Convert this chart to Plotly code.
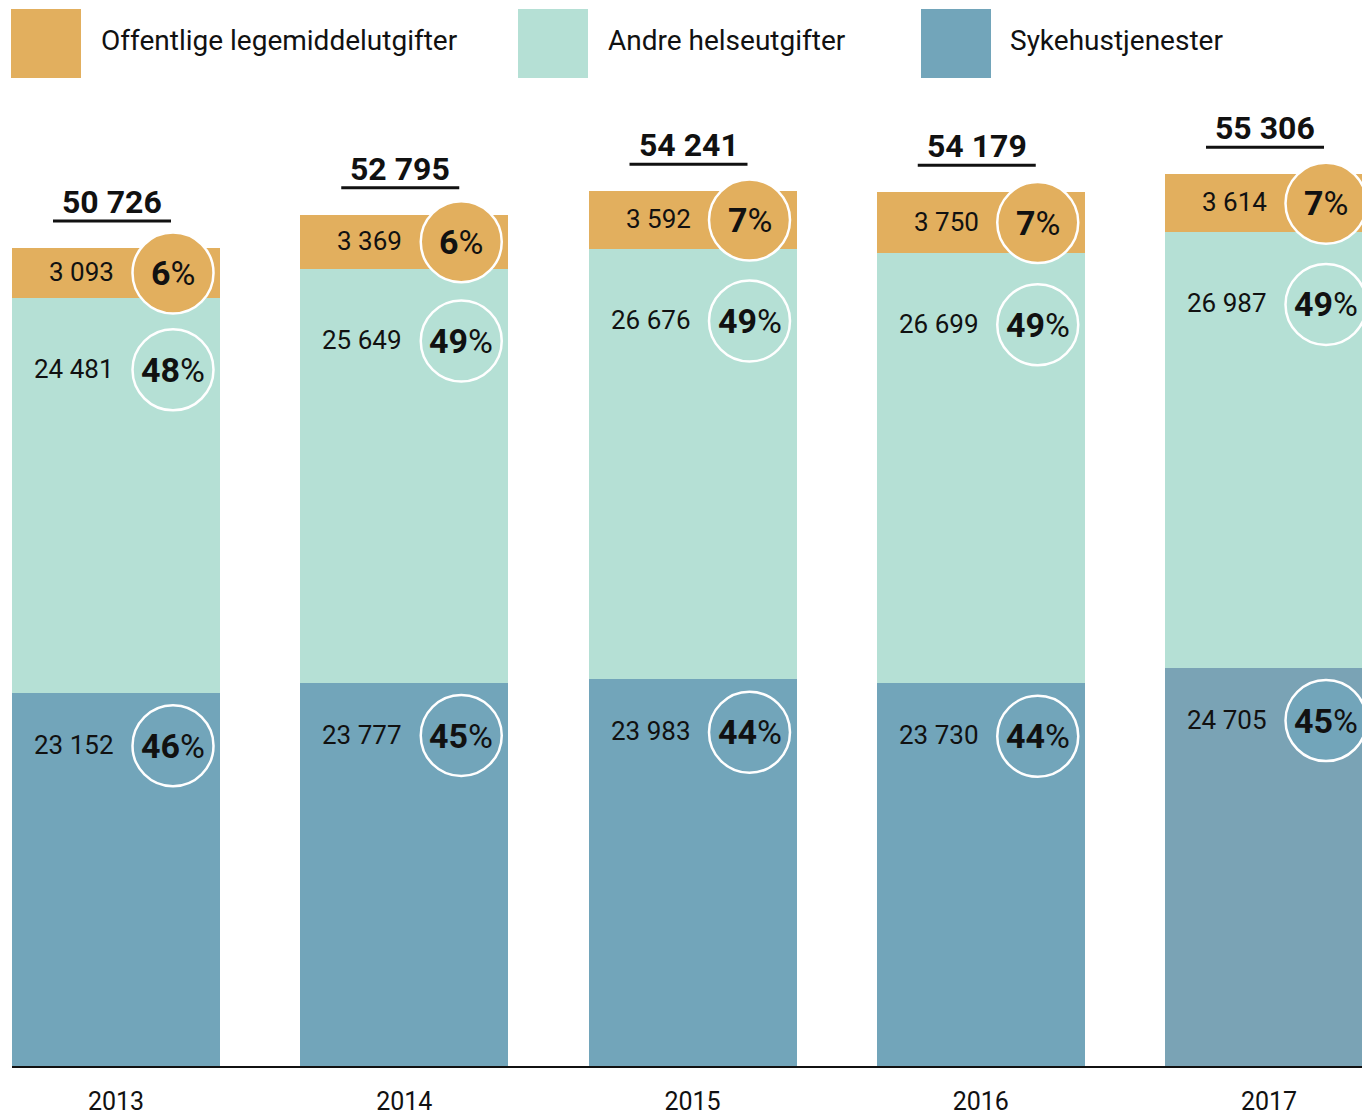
import plotly.graph_objects as go

# ---- data ----
years = ["2013", "2014", "2015", "2016", "2017"]
sykehus = [23152, 23777, 23983, 23730, 24705]
andre = [24481, 25649, 26676, 26699, 26987]
legemiddel = [3093, 3369, 3592, 3750, 3614]
totals = [50726, 52795, 54241, 54179, 55306]
pct_sykehus = [46, 45, 44, 44, 45]
pct_andre = [48, 49, 49, 49, 49]
pct_legemiddel = [6, 6, 7, 7, 7]
series_names = ["Offentlige legemiddelutgifter", "Andre helseutgifter", "Sykehustjenester"]

# ---- style ----
C_ORANGE = "#E2AF5E"
C_GREEN = "#B5E0D5"
C_BLUE = "#72A5BA"
blue_bar_colors = [C_BLUE, C_BLUE, C_BLUE, C_BLUE, "#7AA3B5"]
FONT = "Roboto"
BAR_W = 0.7216
W, H = 1362, 1118
ML, MR, MT, MB = 12, 0, 100, 52
PX_PER_UNIT = 0.016126
plot_h = H - MT - MB
plot_w = W - ML - MR
ymax = plot_h / PX_PER_UNIT

def fmt(v):
    return f"{v:,}".replace(",", " ")

x = list(range(len(years)))

fig = go.Figure()
fig.add_bar(x=x, y=sykehus, width=BAR_W, marker=dict(color=blue_bar_colors, line_width=0),
            name=series_names[2], hoverinfo="skip")
fig.add_bar(x=x, y=andre, width=BAR_W, marker=dict(color=C_GREEN, line_width=0),
            name=series_names[1], hoverinfo="skip")
fig.add_bar(x=x, y=legemiddel, width=BAR_W, marker=dict(color=C_ORANGE, line_width=0),
            name=series_names[0], hoverinfo="skip")

shapes = []
annotations = []
R = 40.5
CX = 57

for i in x:
    segs = [
        (sykehus[i], -53, C_BLUE, sykehus[i], pct_sykehus[i]),
        (sykehus[i] + andre[i], -72, C_GREEN, andre[i], pct_andre[i]),
        (sykehus[i] + andre[i] + legemiddel[i] / 2, 0, C_ORANGE, legemiddel[i], pct_legemiddel[i]),
    ]
    for yanchor, off, col, val, pct in segs:
        shapes.append(dict(type="circle", xref="x", yref="y", xsizemode="pixel", ysizemode="pixel",
                           xanchor=i, yanchor=yanchor, x0=CX - R, x1=CX + R,
                           y0=off - R, y1=off + R, fillcolor=col,
                           line=dict(color="white", width=2.5), layer="above"))
        annotations.append(dict(x=i, y=yanchor, xref="x", yref="y", text=fmt(val), showarrow=False,
                                xanchor="right", yanchor="middle", xshift=0, yshift=off + 1,
                                font=dict(family=FONT, size=26, color="#111")))
        annotations.append(dict(x=i, y=yanchor, xref="x", yref="y", text=f"<b>{pct}</b>%",
                                showarrow=False, xanchor="center", yanchor="middle",
                                xshift=CX, yshift=off, font=dict(family=FONT, size=34, color="#111")))
    # total label with underline
    annotations.append(dict(x=i, y=totals[i], xref="x", yref="y", text=f"<b>{fmt(totals[i])}</b>",
                            showarrow=False, xanchor="center", yanchor="middle", xshift=-4, yshift=46,
                            font=dict(family=FONT, size=32, color="#111")))
    shapes.append(dict(type="line", xref="x", yref="y", xsizemode="pixel", ysizemode="pixel",
                       xanchor=i, yanchor=totals[i], x0=-63, x1=55, y0=27, y1=27,
                       line=dict(color="#111", width=3), layer="above"))

# ---- custom legend (positions given in screen pixels) ----
def px_x(p):
    return (p - ML) / plot_w
def px_y(p):
    return (H - MB - p) / plot_h

legend_items = [(series_names[0], C_ORANGE, 11, 99),
                (series_names[1], C_GREEN, 518, 606),
                (series_names[2], C_BLUE, 921, 1008)]
for name, col, sx, tx in legend_items:
    shapes.append(dict(type="rect", xref="paper", yref="paper",
                       x0=px_x(sx), x1=px_x(sx + 70), y0=px_y(78), y1=px_y(9),
                       fillcolor=col, line_width=0))
    annotations.append(dict(x=px_x(tx), y=px_y(40), xref="paper", yref="paper", text=name,
                            showarrow=False, xanchor="left", yanchor="middle",
                            font=dict(family=FONT, size=28, color="#111")))

fig.update_layout(
    template="none",
    barmode="stack",
    width=W, height=H,
    margin=dict(l=ML, r=MR, t=MT, b=MB),
    paper_bgcolor="white", plot_bgcolor="white",
    showlegend=False,
    shapes=shapes,
    annotations=annotations,
    xaxis=dict(range=[-BAR_W / 2, -BAR_W / 2 + plot_w / 288.25], tickvals=x, ticktext=years,
               showgrid=False, zeroline=False, showline=True, linecolor="#111", linewidth=1.5,
               ticks="", ticklabelstandoff=12, automargin=False,
               tickfont=dict(family=FONT, size=25, color="#111")),
    yaxis=dict(range=[0, ymax], visible=False, automargin=False),
)

fig.write_html("out.html", config={"displayModeBar": False},
               post_script="document.body.style.margin='0';document.body.style.overflow='hidden';")
